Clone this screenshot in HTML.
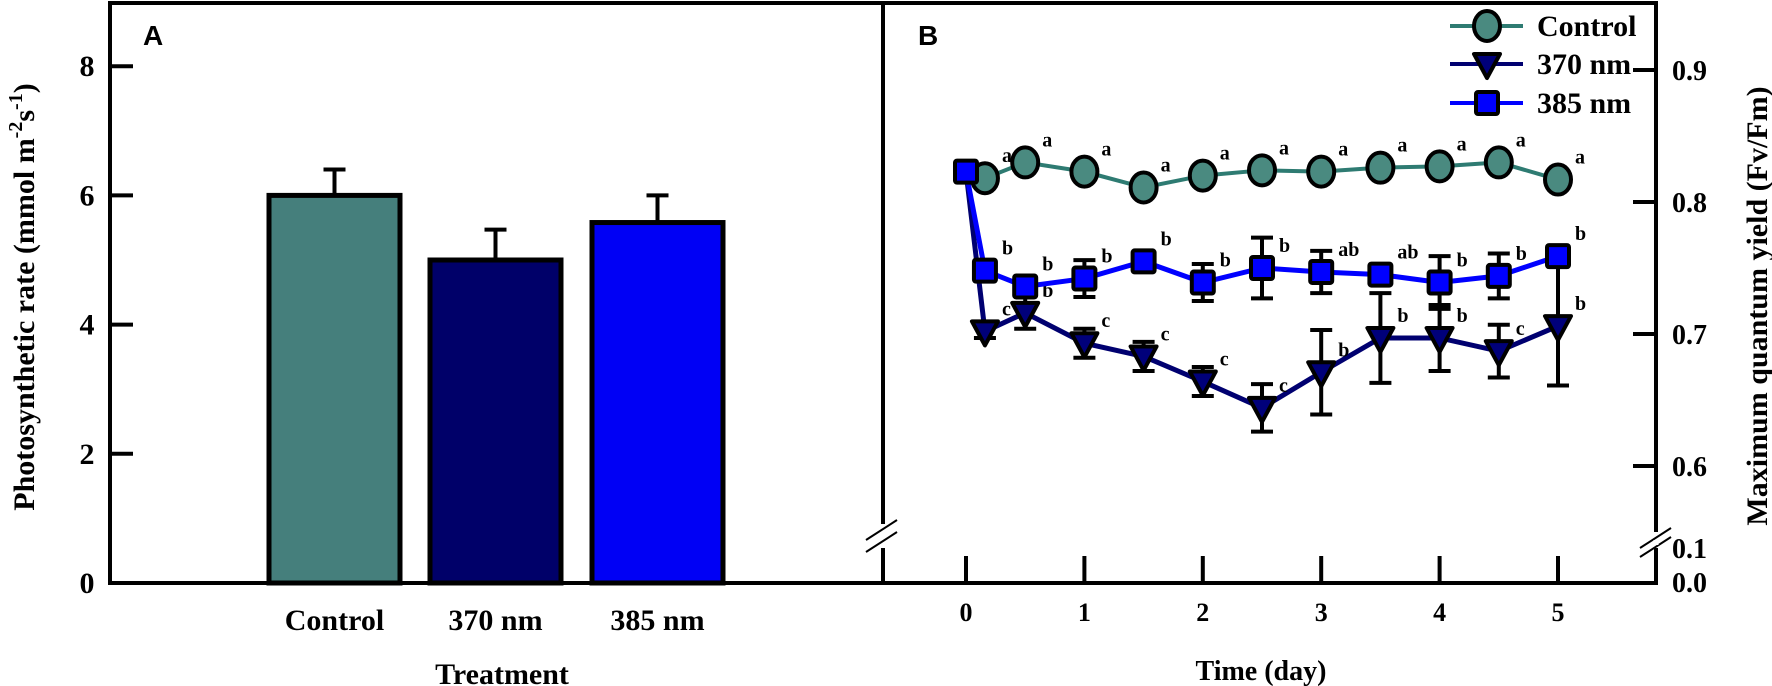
<!DOCTYPE html>
<html><head><meta charset="utf-8"><style>
html,body{margin:0;padding:0;background:#fff}
svg{display:block}
text{font-family:"Liberation Serif",serif;font-weight:bold;fill:#000}
</style></head><body>
<svg id="fig" width="1772" height="686" viewBox="0 0 1772 686" xmlns="http://www.w3.org/2000/svg">
<g id="axes">
  <rect x="110" y="3" width="1546" height="580" fill="none" stroke="#000" stroke-width="4"/>
  <line x1="883" y1="3" x2="883" y2="583" stroke="#000" stroke-width="4"/>
  <g stroke="#000" stroke-width="2">
    <rect x="872" y="524" width="22" height="24" fill="#fff" stroke="none"/>
    <line x1="866" y1="540" x2="897" y2="520"/><line x1="866" y1="552" x2="897" y2="532"/>
  </g>
  <g stroke="#000" stroke-width="2">
    <rect x="1646" y="532" width="22" height="16" fill="#fff" stroke="none"/>
    <line x1="1640" y1="548" x2="1671" y2="528"/><line x1="1640" y1="557" x2="1671" y2="537"/>
  </g>
  <line x1="1656" y1="540" x2="1656" y2="545" stroke="#fff" stroke-width="5"/>
</g>
<text x="143" y="45" font-size="28" style="font-family:'Liberation Sans',sans-serif">A</text>
<text x="918" y="45" font-size="28" style="font-family:'Liberation Sans',sans-serif">B</text>
<text transform="translate(34,297) rotate(-90)" text-anchor="middle" font-size="30">Photosynthetic rate (mmol m<tspan dy="-12" font-size="20">-2</tspan><tspan dy="12">s</tspan><tspan dy="-12" font-size="20">-1</tspan><tspan dy="12">)</tspan></text>
<text x="502" y="684" text-anchor="middle" font-size="30">Treatment</text>
<text x="1261" y="680" text-anchor="middle" font-size="28">Time (day)</text>
<text transform="translate(1767,306) rotate(-90)" text-anchor="middle" font-size="30">Maximum quantum yield (Fv/Fm)</text>
<g id="gA"></g>
<g id="gB"></g>
<g id="legend"></g>
</svg>
<script>
// Panel A data
const barCats = ["Control","370 nm","385 nm"];
const barVals = [6.0, 5.0, 5.58];
const barErr = [0.4, 0.47, 0.42];
const leftTicks = [0,2,4,6,8];
// Panel B data
const days = [0.16,0.5,1,1.5,2,2.5,3,3.5,4,4.5,5];
const ctrlVals = [0.818,0.830,0.823,0.811,0.820,0.824,0.823,0.826,0.827,0.830,0.817];
const nm370Vals = [0.702,0.716,0.693,0.683,0.664,0.644,0.671,0.697,0.697,0.687,0.706];
const nm370Err = [0.005,0.012,0.011,0.011,0.011,0.018,0.032,0.034,0.025,0.02,0.045];
const nm385Vals = [0.748,0.736,0.742,0.755,0.739,0.750,0.747,0.745,0.739,0.744,0.759];
const nm385Err = [0.004,0.004,0.014,0.004,0.014,0.023,0.016,0.005,0.02,0.017,0.005];
const ctrlLetters = ["a","a","a","a","a","a","a","a","a","a","a"];
const nm370Letters = ["c","b","c","c","c","c","b","b","b","c","b"];
const nm385Letters = ["b","b","b","b","b","b","ab","ab","b","b","b"];
const startDay = 0;
const startVal = 0.823;
const rightTicks = [0.6,0.7,0.8,0.9];
const xTicks = [0,1,2,3,4,5];

const NS="http://www.w3.org/2000/svg";
function mk(tag,attrs,parent){const e=document.createElementNS(NS,tag);for(const k in attrs)e.setAttribute(k,attrs[k]);parent.appendChild(e);return e;}
const gA=document.getElementById('gA'), gB=document.getElementById('gB'), lg=document.getElementById('legend');
const yA=v=>583-v*64.6;
const xB=d=>966+d*118.4;
const yB=v=>202-(v-0.8)*1320;

leftTicks.forEach(t=>{
  const l=mk('line',{x1:110,x2:133,y1:yA(t),y2:yA(t),stroke:'#000','stroke-width':4},gA);
  
  
  const tx=mk('text',{x:87,y:yA(t)+10,'text-anchor':'middle','font-size':30},gA);
  tx.textContent=t;
  
  
});
const barColors=["#457f7c","#000069","#0000f5"];
const barX=[269,430,592], bw=131;
barCats.forEach((c,i)=>{
  const top=yA(barVals[i]);
  const r=mk('rect',{x:barX[i],y:top,width:bw,height:583-top,fill:barColors[i],stroke:'#000','stroke-width':5},gA);
  
  
  const cx=barX[i]+bw/2, et=yA(barVals[i]+barErr[i]);
  const e=mk('path',{d:`M${cx},${top} V${et} M${cx-11},${et} H${cx+11}`,stroke:'#000','stroke-width':4,fill:'none'},gA);
  
  
  const t=mk('text',{x:cx,y:630,'text-anchor':'middle','font-size':30},gA);
  t.textContent=c;
  
  
});

xTicks.forEach(d=>{
  const l=mk('line',{x1:xB(d),x2:xB(d),y1:556,y2:583,stroke:'#000','stroke-width':4},gB);
  
  
  const t=mk('text',{x:xB(d),y:621,'text-anchor':'middle','font-size':26},gB);
  t.textContent=d;
  
  
});
rightTicks.forEach(v=>{
  const l=mk('line',{x1:1633,x2:1656,y1:yB(v),y2:yB(v),stroke:'#000','stroke-width':4},gB);
  
  
  const t=mk('text',{x:1672,y:yB(v)+10,'font-size':28},gB);
  t.textContent=v.toFixed(1);
  
  
});
[["0.1",558],["0.0",592]].forEach(a=>{
  const t=mk('text',{x:1672,y:a[1],'font-size':28},gB);
  t.textContent=a[0];
  
  
});

function marker(type,x,y,fill,parent){
  let m;
  if(type==='c') m=mk('ellipse',{cx:x,cy:y,rx:13,ry:15,fill:fill,stroke:'#000','stroke-width':4},parent);
  else if(type==='s') m=mk('rect',{x:x-11,y:y-11,width:22,height:22,fill:fill,stroke:'#000','stroke-width':4,rx:2},parent);
  else m=mk('path',{d:`M${x-13},${y-10} L${x+13},${y-10} L${x},${y+14} Z`,fill:fill,stroke:'#000','stroke-width':4,'stroke-linejoin':'round'},parent);
  return m;
}
function series(name,vals,errs,letters,type,line,fill,lw){
  const g=mk('g',{},gB);
  
  
  const pts=[[xB(startDay),yB(startVal)]].concat(days.map((d,i)=>[xB(d),yB(vals[i])]));
  const p=mk('polyline',{points:pts.map(q=>q.join(',')).join(' '),fill:'none',stroke:line,'stroke-width':lw},g);
  
  
  days.forEach((d,i)=>{
    const x=xB(d),y=yB(vals[i]);
    if(errs){
      const t=yB(vals[i]+errs[i]),b=yB(vals[i]-errs[i]);
      const e=mk('path',{d:`M${x},${t} V${b} M${x-11},${t} H${x+11} M${x-11},${b} H${x+11}`,stroke:'#000','stroke-width':4,fill:'none'},g);
      
      
    }
  });
  days.forEach((d,i)=>{
    const m=marker(type,xB(d),yB(vals[i]),fill,g);
    
    
    const t=mk('text',{x:xB(d)+17,y:yB(vals[i])-16,'font-size':20},g);
    t.textContent=letters[i];
    
    
  });
}
series('control',ctrlVals,null,ctrlLetters,'c','#2e7b72','#4a8a80',4);
series('370nm',nm370Vals,nm370Err,nm370Letters,'t','#000070','#00007a',5);
series('385nm',nm385Vals,nm385Err,nm385Letters,'s','#0000ff','#0000ff',5);
const sm=marker('s',xB(startDay),yB(startVal),'#0000ff',gB);



[["Control",'c','#2e7b72','#4a8a80',26],["370 nm",'t','#000070','#00007a',64],["385 nm",'s','#0000ff','#0000ff',103]].forEach(r=>{
  const g=mk('g',{},lg);
  
  
  mk('line',{x1:1450,x2:1523,y1:r[4],y2:r[4],stroke:r[2],'stroke-width':4},g);
  marker(r[1],1487,r[4],r[3],g);
  const t=mk('text',{x:1537,y:r[4]+10,'font-size':30},g);
  t.textContent=r[0];
});
</script>
</body></html>
